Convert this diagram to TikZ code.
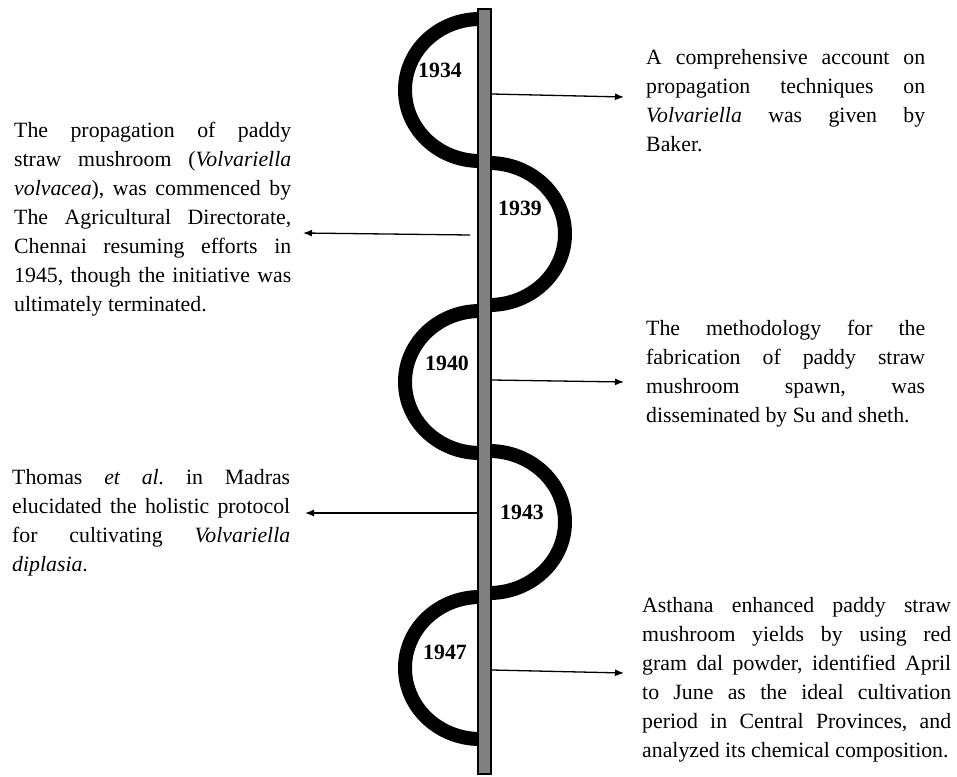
\documentclass[tikz,border=0pt]{standalone}
\usepackage{fontspec}
\setmainfont{Liberation Serif}
\usetikzlibrary{arrows.meta}
\frenchspacing
\tikzset{
  txt/.style={anchor=base west, inner sep=0, align=justify,
    font=\fontsize{21.8}{29}\selectfont},
  yr/.style={anchor=base, inner sep=0, font=\fontsize{21.8}{29}\selectfont\bfseries},
  coil/.style={line width=14pt},
}
\begin{document}
\begin{tikzpicture}[>={Latex[length=9pt,width=7pt]}, x=1pt, y=1pt]
\useasboundingbox (0,0) rectangle (957,-776);
\hyphenpenalty=10000 \exhyphenpenalty=10000

\draw[coil] (480,-19) arc[start angle=90, end angle=270, x radius=75, y radius=71];
\draw[coil] (489,-163) arc[start angle=90, end angle=-90, x radius=76, y radius=71];
\draw[coil] (480,-311) arc[start angle=90, end angle=270, x radius=75, y radius=71];
\draw[coil] (489,-451) arc[start angle=90, end angle=-90, x radius=76, y radius=71];
\draw[coil] (480,-597) arc[start angle=90, end angle=270, x radius=75, y radius=71];

\filldraw[fill=gray, draw=black, line width=2.5pt] (478,-9) rectangle (491,-774);

\node[yr] (y1934) at (440,-77) {1934};
\node[yr] (y1939) at (520,-215) {1939};
\node[yr] (y1940) at (447,-370) {1940};
\node[yr] (y1943) at (522,-519) {1943};
\node[yr] (y1947) at (445,-659) {1947};

\node[txt, text width=279pt] (baker) at (646,-64) {A comprehensive account on\linebreak
propagation techniques on\linebreak
\textit{Volvariella} was given by\linebreak
Baker.};
\node[txt, text width=277pt] (chennai) at (14,-137) {The propagation of paddy\linebreak
straw mushroom (\textit{Volvariella}\linebreak
\textit{volvacea}), was commenced by\linebreak
The Agricultural Directorate,\linebreak
Chennai resuming efforts in\linebreak
1945, though the initiative was\linebreak
ultimately terminated.};
\node[txt, text width=279pt] (susheth) at (646,-335) {The methodology for the\linebreak
fabrication of paddy straw\linebreak
mushroom spawn, was\linebreak
disseminated by Su and sheth.};
\node[txt, text width=278pt] (thomas) at (12,-484) {Thomas \textit{et al.} in Madras\linebreak
elucidated the holistic protocol\linebreak
for cultivating \textit{Volvariella}\linebreak
\textit{diplasia}.};
\node[txt, text width=309pt] (asthana) at (642,-612) {Asthana enhanced paddy straw\linebreak
mushroom yields by using red\linebreak
gram dal powder, identified April\linebreak
to June as the ideal cultivation\linebreak
period in Central Provinces, and\linebreak
analyzed its chemical composition.};

\coordinate (s1934) at (492,-94);
\coordinate (e1934) at (624,-97);
\coordinate (s1939) at (470,-235);
\coordinate (e1939) at (303,-233);
\coordinate (s1940) at (492,-380);
\coordinate (e1940) at (624,-382);
\coordinate (s1943) at (477,-513);
\coordinate (e1943) at (305,-513);
\coordinate (s1947) at (492,-670);
\coordinate (e1947) at (624,-673);

\path[->, line width=1.3pt] (s1934) edge (e1934);
\path[->, line width=1.3pt] (s1939) edge (e1939);
\path[->, line width=1.3pt] (s1940) edge (e1940);
\path[->, line width=1.3pt] (s1943) edge (e1943);
\path[->, line width=1.3pt] (s1947) edge (e1947);
\end{tikzpicture}
\end{document}
